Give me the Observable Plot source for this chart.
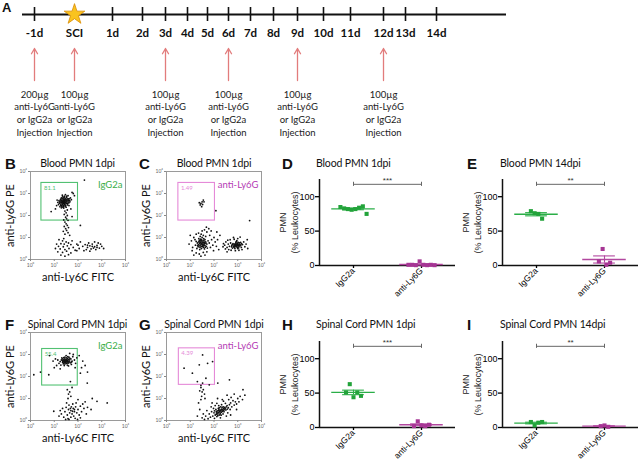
<!DOCTYPE html>
<html><head><meta charset="utf-8">
<script src="https://cdn.jsdelivr.net/npm/d3@7"></script>
<script src="https://cdn.jsdelivr.net/npm/@observablehq/plot@0.6"></script>
<style>
body{margin:0;background:#fff}
#fig{position:relative;width:640px;height:465px;overflow:hidden;background:#fff}
.abs{position:absolute}
.letter{position:absolute;font:bold 15px "Liberation Sans",Arial,sans-serif;line-height:15px;color:#111}
.title{position:absolute;font:10.5px Lato,"Open Sans",sans-serif;line-height:11px;white-space:nowrap;color:#111;letter-spacing:-0.15px}
</style></head><body><div id="fig"></div>
<script>
// ---------- Panel A: timeline ----------
const timelineDays = [-1,0,1,2,3,4,5,6,7,8,9,10,11,12,13,14];
const timelineLabels = ["-1d","SCI","1d","2d","3d","4d","5d","6d","7d","8d","9d","10d","11d","12d","13d","14d"];
const injectionDays = [-1,0,3,6,9,12];
const injectionDoses = ["200µg","100µg","100µg","100µg","100µg","100µg"];
const injectionText = "anti-Ly6G\nor IgG2a\nInjection";

// ---------- Flow cytometry panels (log10 decades: [Ly6C, Ly6G]) ----------
const flowTitles = ["Blood PMN 1dpi","Blood PMN 1dpi","Spinal Cord PMN 1dpi","Spinal Cord PMN 1dpi"];
const flowSamples = ["IgG2a","anti-Ly6G","IgG2a","anti-Ly6G"];
const gatePercents = ["81.1","1.49","55.4","4.39"];
const gateB = [0.46, 2.0, 1.77, 3.48];
const gateC = [0.5, 2.04, 1.77, 3.48];
const gateF = [0.49, 1.99, 1.59, 3.25];
const gateG = [0.52, 2.04, 1.62, 3.28];
const decades = [1, 10, 100, 1000, 10000];

const pointsB = `1.30,2.60 1.35,2.65 1.40,2.62 1.45,2.58 1.38,2.55 1.32,2.70 1.42,2.72 1.50,2.66 1.28,2.52 1.36,2.48 1.44,2.50 1.52,2.55 1.25,2.62 1.48,2.75 1.40,2.80 1.33,2.78 1.55,2.70 1.58,2.62 1.22,2.56 1.30,2.45 1.46,2.42 1.38,2.40 1.52,2.82 1.60,2.75 1.20,2.68 1.27,2.74 1.43,2.88 1.35,2.85 1.62,2.58 1.56,2.48 1.18,2.50 1.24,2.40 1.40,2.34 1.50,2.38 1.65,2.68 1.68,2.80 1.15,2.60 1.10,2.45 1.34,2.92 1.58,2.90 1.72,2.72 1.47,2.95 1.30,2.35 1.62,2.45 1.12,2.70 1.37,2.58 1.42,2.67 1.33,2.63 1.47,2.61 1.39,2.71 1.80,3.00 1.75,3.05 1.85,2.90
1.36,2.62 1.41,2.60 1.44,2.64 1.39,2.66 1.35,2.58 1.46,2.69 1.31,2.67 1.49,2.57 1.43,2.54 1.34,2.52 1.29,2.58 1.53,2.62 1.51,2.71 1.37,2.75 1.45,2.79 1.26,2.70 1.55,2.76 1.60,2.68 1.40,2.46 1.48,2.47 1.32,2.42 1.57,2.55 1.22,2.62 1.63,2.76 1.30,2.80 1.42,2.84 1.52,2.88 1.37,2.37 1.27,2.47 1.66,2.62
1.05,2.30 0.87,2.18 1.70,2.30 1.55,2.25 1.45,2.20 1.50,2.12 1.42,2.05 1.55,2.00 1.48,1.92 1.52,1.85 1.40,1.80 1.58,1.78 1.45,1.70 1.50,1.62 1.55,1.55 1.42,1.50 1.60,1.45 1.48,1.40 1.52,1.32 1.38,1.28 1.58,1.22 1.45,1.15 1.65,1.10 2.10,1.55 2.27,3.61 1.75,1.95
1.20,0.90 1.35,0.85 1.50,0.80 1.28,0.72 1.42,0.70 1.60,0.75 1.18,0.60 1.38,0.58 1.55,0.62 1.70,0.68 1.25,0.48 1.45,0.45 1.62,0.50 1.80,0.55 1.15,0.35 1.35,0.32 1.52,0.38 1.70,0.30 1.88,0.42 1.28,0.20 1.45,0.15 1.60,0.22 1.10,0.70 1.75,0.85 1.40,0.95 1.95,0.70 1.05,0.50
2.00,0.65 2.05,0.50 2.10,0.80 1.95,0.40
2.20,0.60 2.30,0.68 2.40,0.55 2.50,0.62 2.60,0.70 2.70,0.58 2.80,0.64 2.90,0.52 3.00,0.60 2.35,0.45 2.55,0.48 2.75,0.45 2.95,0.70 2.45,0.75 2.65,0.52 2.85,0.75 3.08,0.50 2.25,0.40 2.70,0.80 2.50,0.38 2.60,0.60 2.40,0.65 2.80,0.55`;

const pointsC = `1.45,2.55 1.50,2.62 1.42,2.48 1.55,2.70 1.48,2.40 1.38,2.58 1.52,2.50 1.58,2.62 2.08,2.22 3.50,1.77
1.40,0.80 1.45,0.75 1.50,0.70 1.55,0.78 1.60,0.72 1.35,0.68 1.42,0.62 1.48,0.85 1.52,0.60 1.58,0.65 1.65,0.80 1.38,0.88 1.30,0.75 1.44,0.92 1.62,0.90 1.55,0.55 1.47,0.50 1.33,0.58 1.70,0.70 1.68,0.60 1.25,0.82 1.36,0.95 1.57,0.95 1.50,1.00 1.42,1.05 1.75,0.85 1.22,0.65 1.28,0.50 1.40,0.45 1.60,0.48 1.72,0.52 1.80,0.75 1.20,0.90 1.65,1.05 1.55,1.10 1.46,1.15
1.48,0.72 1.53,0.76 1.57,0.70 1.45,0.68 1.50,0.80 1.43,0.78 1.60,0.77 1.52,0.66 1.47,0.60 1.56,0.62 1.62,0.64 1.39,0.72 1.35,0.80 1.54,0.88 1.46,0.90 1.41,0.55 1.63,0.56 1.66,0.74 1.31,0.64 1.58,0.84 1.43,0.85 1.37,0.62
0.95,0.70 1.05,0.85 1.10,0.55 1.15,1.00 1.08,0.40 1.25,0.30 1.38,0.25 1.55,0.32 1.70,0.35 1.85,0.55 1.90,0.90 1.82,1.10 1.70,1.25 1.60,1.35 1.68,1.47 1.50,1.30 1.35,1.20 1.25,1.15 1.95,0.65 2.00,1.00 1.45,0.15 1.62,0.20 1.78,1.40 1.88,1.30 1.15,0.20 1.00,1.10 1.98,0.40 2.05,0.80
2.10,0.60 2.15,0.90 2.20,0.45 2.25,1.10 2.12,1.25
2.85,0.65 2.90,0.70 2.95,0.62 3.00,0.68 3.05,0.60 2.88,0.58 2.92,0.75 2.98,0.55 3.02,0.78 2.80,0.72 2.82,0.60 3.08,0.70 3.10,0.62 2.75,0.65 2.70,0.75 2.78,0.52 2.95,0.82 3.12,0.78 3.15,0.55 2.65,0.60 2.60,0.70 2.55,0.55 2.50,0.80 2.45,0.65 2.40,0.72 2.58,0.88 2.68,0.90 2.85,0.92 3.00,0.95 3.20,0.68 3.25,0.80 3.30,0.58 3.18,0.45 3.05,0.42 2.90,0.40 2.72,0.42 2.62,0.45 2.48,0.48 2.38,0.58 3.35,0.70 3.40,0.90 2.97,0.66 2.93,0.68 2.87,0.63 3.03,0.64 2.82,1.00 3.10,1.02 2.55,0.35 3.42,0.50
2.91,0.66 2.96,0.70 2.99,0.62 3.01,0.71 2.89,0.62 2.94,0.59 3.06,0.66 2.86,0.70 2.84,0.56 3.04,0.53 3.13,0.66 2.79,0.68 2.92,0.79 2.98,0.74 3.07,0.76 2.74,0.58 3.16,0.72 2.88,0.50 3.00,0.50 2.96,0.86`;

const pointsF = `1.40,2.70 1.45,2.75 1.50,2.68 1.55,2.72 1.48,2.62 1.42,2.80 1.52,2.85 1.60,2.78 1.35,2.65 1.38,2.58 1.58,2.60 1.65,2.70 1.30,2.75 1.45,2.88 1.62,2.88 1.68,2.62 1.25,2.68 1.55,2.52 1.32,2.85 1.70,2.80 1.75,2.70 1.20,2.60 1.42,2.50 1.50,2.95 1.78,2.90 1.15,2.75 1.60,2.48 1.72,2.55 1.28,2.52 1.85,2.75 1.47,2.71 1.53,2.77 1.44,2.66 1.57,2.66 1.36,2.72
1.46,2.70 1.51,2.73 1.49,2.66 1.43,2.72 1.54,2.68 1.48,2.79 1.56,2.81 1.39,2.76 1.41,2.63 1.59,2.70 1.63,2.76 1.36,2.68 1.52,2.60 1.45,2.57 1.66,2.82 1.34,2.80 1.73,2.66 1.57,2.90 1.40,2.86 1.62,2.64
1.05,2.80 1.10,2.50 0.95,2.70 1.90,2.60 1.95,2.85 2.05,2.95 2.20,2.70 2.30,2.50 2.15,2.40 2.40,2.20 1.88,2.40 1.00,2.40 1.25,2.35 1.80,3.00 0.80,2.95 1.65,3.05 2.10,2.15
0.14,2.08 0.42,2.20 0.77,2.08 1.68,1.77 2.39,1.70
1.55,1.40 1.65,1.30 1.60,1.20 1.70,1.10 1.58,1.00 1.75,1.50
1.50,0.60 1.60,0.50 1.70,0.45 1.80,0.55 1.90,0.62 1.65,0.35 1.75,0.30 1.85,0.40 1.95,0.35 1.55,0.25 1.70,0.15 1.82,0.20 2.00,0.50 2.05,0.25 1.45,0.40 1.62,0.70 1.78,0.75 1.92,0.80 2.10,0.65 1.40,0.15 1.58,0.08 1.88,0.10 2.15,0.40 2.20,0.75 1.35,0.55 1.72,0.62 1.68,0.55 1.77,0.42 1.85,0.50 2.25,0.55 1.30,0.30 2.30,0.85 1.52,0.80 2.00,0.95 1.25,0.45 2.10,0.12 1.62,0.05 1.98,0.05 1.48,0.05 2.35,0.30 1.20,0.20 2.40,0.60
2.80,0.87 3.23,0.80 0.98,0.42 2.60,1.00 2.55,0.50`;

const pointsG = `1.52,2.98 1.73,2.60 1.38,2.53 1.94,2.68 0.74,2.38 1.09,2.15 1.66,1.92 1.30,1.77 1.52,1.70 1.80,1.62 1.45,1.60 2.16,1.70 2.65,1.85
1.45,1.50 1.55,1.40 1.50,1.30 1.60,1.20 1.48,1.10 1.62,1.00 1.40,1.35
2.10,0.40 2.20,0.45 2.30,0.50 2.25,0.35 2.15,0.30 2.35,0.42 2.05,0.25 2.40,0.55 2.45,0.60 2.28,0.62 2.18,0.55 2.00,0.35 1.95,0.20 2.12,0.18 2.38,0.30 2.50,0.48 2.55,0.68 2.60,0.58 2.32,0.72 2.08,0.50 1.90,0.40 1.85,0.15 2.22,0.25 2.42,0.40 2.65,0.72 2.70,0.80 2.48,0.78 2.20,0.68 1.98,0.55 1.80,0.30 1.75,0.08 2.02,0.10 2.27,0.12 2.58,0.35 2.75,0.62 2.80,0.90 2.90,0.85 2.62,0.95 2.40,0.88 2.12,0.78 1.88,0.62 1.70,0.45 1.65,0.20 1.60,0.05 2.52,0.20 2.85,0.70 3.00,1.00 3.10,1.10 2.95,0.75 2.68,0.50 2.35,0.95 2.05,0.68 1.92,0.80 1.55,0.30 1.50,0.12 2.72,1.05 3.05,0.85 2.26,0.44 2.33,0.52 2.17,0.38 2.41,0.47
2.24,0.42 2.29,0.46 2.21,0.50 2.19,0.35 2.31,0.38 2.36,0.48 2.14,0.44 2.27,0.30 2.44,0.52 2.11,0.34 2.39,0.62 2.47,0.56 2.09,0.28 2.34,0.60 2.52,0.62 2.02,0.44 2.56,0.52 2.22,0.58 2.16,0.22 2.30,0.24
1.40,0.50 1.35,0.80 1.45,0.95 2.15,1.00 2.55,1.15 2.85,1.20 3.22,1.40 3.20,0.95 3.30,1.15 2.95,0.50 2.70,0.25 1.30,0.20`;

// ---------- Dot plots: PMN (% Leukocytes) ----------
const groups = ["IgG2a","anti-Ly6G"];
const dotTitles = ["Blood PMN 1dpi","Blood PMN 14dpi","Spinal Cord PMN 1dpi","Spinal Cord PMN 14dpi"];
const dotStars = ["***","**","***","**"];
const bloodDay1_IgG2a = [85, 83, 82, 81, 82, 84, 86, 75];
const bloodDay1_antiLy6G = [1, 1, 0.5, 6, 1, 0.5, 1, 0.5];
const bloodDay14_IgG2a = [79, 76, 75, 68];
const bloodDay14_antiLy6G = [6, 24, 1, 4];
const cordDay1_IgG2a = [51, 63, 44, 51, 46];
const cordDay1_antiLy6G = [2, 9, 3, 2, 4];
const cordDay14_IgG2a = [8, 3, 7, 8];
const cordDay14_antiLy6G = [2, 3, 1];

// ---------- drawing ----------
const fig = document.getElementById("fig");
function place(node, left, top) {
  const d = document.createElement("div");
  d.className = "abs"; d.style.left = left + "px"; d.style.top = top + "px";
  d.appendChild(node); fig.appendChild(d);
}
function addText(cls, txt, left, top, extra) {
  const d = document.createElement("div");
  d.className = cls; d.textContent = txt;
  d.style.left = left + "px"; d.style.top = top + "px";
  if (extra) Object.assign(d.style, extra);
  fig.appendChild(d);
}

// the timeline is schematic (not to scale): a piecewise scale transform maps each day to its slot
const schematicDay = d3.scaleLinear(timelineDays, [34, 74, 112, 142, 165, 187, 207, 228, 250, 273, 297, 323, 350, 383, 405, 436]);

const timeline = Plot.plot({
  width: 640, height: 150, marginLeft: 22, marginRight: 134, marginTop: 0, marginBottom: 0,
  x: {transform: schematicDay, domain: [22, 506], range: [22, 506], axis: null},
  y: {domain: [0, 150], range: [0, 150], axis: null},
  style: {background: "transparent", fontFamily: "Lato, sans-serif"},
  marks: [
    Plot.ruleY([14], {stroke: "#111", strokeWidth: 2}),
    Plot.ruleX(timelineDays.filter(d => d !== 0), {x: d => d, y1: 7, y2: 21, stroke: "#111", strokeWidth: 1.6}),
    Plot.dot([0], {x: d => d, y: 14, symbol: "star", r: 6.5, fill: "#f9c31f", stroke: "#d98a00", strokeWidth: 0.8}),
    Plot.text(timelineDays, {x: d => d, y: 33, text: (d, i) => timelineLabels[i], fontSize: 11.5, fontWeight: "bold", fill: "#111"}),
    Plot.arrow(injectionDays, {x1: d => d, x2: d => d, y1: 80, y2: 48, stroke: "#e27c7c", strokeWidth: 1.3, headLength: 7}),
    Plot.text(injectionDays, {x: d => d, y: 88, text: (d, i) => injectionDoses[i] + "\n" + injectionText, lineAnchor: "top", lineHeight: 1.35, fontSize: 9.5, fill: "#222"})
  ]
});
place(timeline, 0, 0);

const sup = d => "10" + "⁰¹²³⁴"[Math.round(Math.log10(d))];
const parsePts = s => s.trim().split(/\s+/).map(p => p.split(",").map(Number));

function flowPanel(o) {
  const pts = parsePts(o.points);
  return Plot.plot({
    width: 135, height: 145, marginLeft: 30, marginRight: 10, marginTop: 21, marginBottom: 36,
    x: {type: "log", domain: [1, 1e4]},
    y: {type: "log", domain: [1, 1e4]},
    style: {background: "transparent", fontFamily: "Lato, sans-serif"},
    marks: [
      Plot.frame({stroke: "#9a9a9a"}),
      Plot.axisX({ticks: decades, tickFormat: sup, fontSize: 5, tickSize: 2, tickPadding: 1.5, label: null, stroke: "#888", fill: "#666"}),
      Plot.axisY({ticks: decades, tickFormat: sup, fontSize: 5, tickSize: 2, tickPadding: 1.5, label: null, stroke: "#888", fill: "#666"}),
      Plot.text(["anti-Ly6C FITC"], {frameAnchor: "bottom", dy: 21, fontSize: 11, fill: "#111"}),
      Plot.text(["anti-Ly6G PE"], {frameAnchor: "left", rotate: -90, dx: -20, textAnchor: "middle", fontSize: 11, fill: "#111"}),
      Plot.rect([o.gate], {x1: g => 10 ** g[0], x2: g => 10 ** g[1], y1: g => 10 ** g[2], y2: g => 10 ** g[3], stroke: o.gateColor, strokeWidth: 1.1, fill: "none"}),
      Plot.text([o.gate], {x: g => 10 ** g[0], y: g => 10 ** g[3], text: () => o.pct, dx: 2.5, dy: 5, textAnchor: "start", fontSize: 6, fill: o.gateColor}),
      Plot.text([o.sample], {frameAnchor: "top-right", dx: -3, dy: 10, textAnchor: "end", fontSize: 9.5, fill: o.labelColor}),
      Plot.dot(pts, {x: d => 10 ** d[0], y: d => 10 ** d[1], r: 0.9, fill: "#111", stroke: "none"})
    ]
  });
}

const green = "#22a33a", magenta = "#a63594";
const gateGreen = "#52c172", gatePink = "#e58ad8";
const rowTop = [150, 311];

place(flowPanel({points: pointsB, gate: gateB, pct: gatePercents[0], sample: flowSamples[0], gateColor: gateGreen, labelColor: "#3aad48"}), 0, rowTop[0]);
place(flowPanel({points: pointsC, gate: gateC, pct: gatePercents[1], sample: flowSamples[1], gateColor: gatePink, labelColor: "#b43ab4"}), 136, rowTop[0]);
place(flowPanel({points: pointsF, gate: gateF, pct: gatePercents[2], sample: flowSamples[2], gateColor: gateGreen, labelColor: "#3aad48"}), 0, rowTop[1]);
place(flowPanel({points: pointsG, gate: gateG, pct: gatePercents[3], sample: flowSamples[3], gateColor: gatePink, labelColor: "#b43ab4"}), 136, rowTop[1]);

const pointColors = [green, magenta];
const lineColors = ["#2aae47", "#b2479f"];
const sigLevel = 118;

function dotPanel(o) {
  const rows = [];
  o.series.forEach((vals, g) => vals.forEach((v, i) => rows.push({g, v, x: g + (i - (vals.length - 1) / 2) * 0.055})));
  const stats = o.series.map((vals, g) => ({g, mean: d3.mean(vals), sem: d3.deviation(vals) / Math.sqrt(vals.length)}));
  const lc = d => lineColors[d.g];
  return Plot.plot({
    width: o.width, height: o.height, marginLeft: 57, marginRight: o.width - 57 - 136,
    marginTop: 29, marginBottom: o.height - 29 - 86,
    x: {domain: [-0.5, 1.5]}, y: {domain: [0, 125]}, color: {type: "identity"},
    style: {background: "transparent", fontFamily: "'Liberation Sans', Arial, sans-serif"},
    marks: [
      Plot.ruleY([0], {stroke: "#111", strokeWidth: 1.5}),
      Plot.ruleX([-0.5], {stroke: "#111", strokeWidth: 1.5}),
      Plot.axisY({ticks: [0, 50, 100], tickSize: 4, tickPadding: 1, fontSize: 9, label: null, strokeWidth: 1.3}),
      Plot.axisX({ticks: [0, 1], tickFormat: i => groups[i], tickRotate: -45, tickSize: 3, tickPadding: 1, fontSize: 8.5, label: null, strokeWidth: 1.3}),
      Plot.text(["PMN\n(% Leukocytes)"], {frameAnchor: "left", rotate: -90, dx: -31, textAnchor: "middle", fontSize: 9, lineHeight: 1.25, fill: "#222"}),
      Plot.ruleY([sigLevel], {x1: 0, x2: 1, stroke: "#666"}),
      Plot.ruleX([0, 1], {x: d => d, y1: sigLevel - 3, y2: sigLevel + 3, stroke: "#666"}),
      Plot.text([o.stars], {x: 0.5, y: sigLevel, dy: -4, fontSize: 8, fill: "#333"}),
      Plot.ruleY(stats, {y: "mean", x1: d => d.g - 0.32, x2: d => d.g + 0.32, stroke: lc, strokeWidth: 1.3}),
      Plot.ruleY(stats, {y: d => d.mean + d.sem, x1: d => d.g - 0.16, x2: d => d.g + 0.16, stroke: lc, strokeWidth: 1.1}),
      Plot.ruleY(stats, {y: d => d.mean - d.sem, x1: d => d.g - 0.16, x2: d => d.g + 0.16, stroke: lc, strokeWidth: 1.1}),
      Plot.ruleX(stats, {x: "g", y1: d => d.mean - d.sem, y2: d => d.mean + d.sem, stroke: lc, strokeWidth: 1.1}),
      Plot.dot(rows, {x: "x", y: "v", symbol: "square", r: 2.3, fill: d => pointColors[d.g]})
    ]
  });
}

place(dotPanel({series: [bloodDay1_IgG2a, bloodDay1_antiLy6G], stars: dotStars[0], width: 198, height: 160}), 262, rowTop[0]);
place(dotPanel({series: [bloodDay14_IgG2a, bloodDay14_antiLy6G], stars: dotStars[1], width: 195, height: 160}), 445, rowTop[0]);
place(dotPanel({series: [cordDay1_IgG2a, cordDay1_antiLy6G], stars: dotStars[2], width: 198, height: 153}), 262, 312);
place(dotPanel({series: [cordDay14_IgG2a, cordDay14_antiLy6G], stars: dotStars[3], width: 195, height: 153}), 445, 312);

// panel letters
addText("letter", "A", 2, 0, {fontSize: "13px"});
[["B",5,156],["C",139,156],["D",282,156],["E",467,156],["F",5,317],["G",139,317],["H",282,317],["I",467,317]]
  .forEach(([t, l, tp]) => addText("letter", t, l, tp));

// titles
const flowCenters = [77.5, 214, 77.5, 214];
const titleTops = [158, 158, 319, 319];
flowTitles.forEach((t, i) => addText("title", t, flowCenters[i] - 60, titleTops[i], {width: "120px", textAlign: "center"}));
const dotLefts = [316, 500, 316, 500];
dotTitles.forEach((t, i) => addText("title", t, dotLefts[i], titleTops[i]));
</script>
</body></html>
